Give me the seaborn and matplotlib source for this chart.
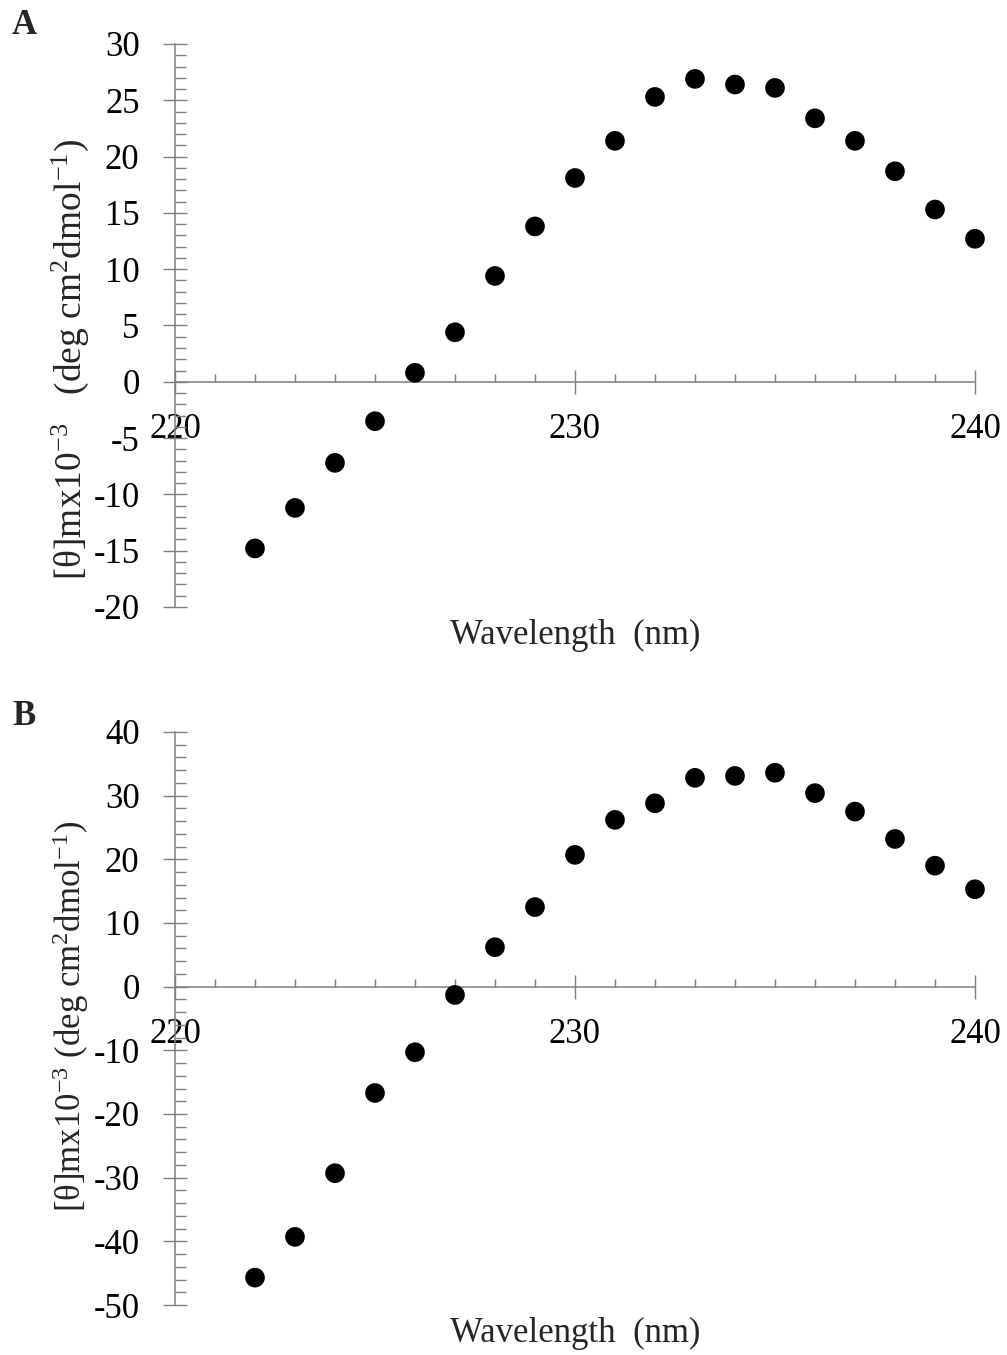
import matplotlib
matplotlib.use('Agg')
import matplotlib.pyplot as plt
import seaborn as sns
import pandas as pd
from matplotlib.ticker import MultipleLocator

# wavelengths (nm), one reading per nm
wavelength = list(range(222, 241))

# mean residue ellipticity x10^-3, panel A
theta_a = [-14.8, -11.2, -7.2, -3.5, 0.8, 4.4, 9.4, 13.8, 18.1, 21.4,
           25.3, 26.9, 26.4, 26.1, 23.4, 21.4, 18.7, 15.3, 12.7]

# panel B
theta_b = [-45.7, -39.3, -29.3, -16.7, -10.3, -1.3, 6.2, 12.5, 20.7, 26.2,
           28.8, 32.8, 33.1, 33.6, 30.4, 27.5, 23.2, 19.0, 15.3]

sns.set_style('white')
plt.rcParams['font.family'] = ['Liberation Serif', 'DejaVu Serif']
plt.rcParams['mathtext.fontset'] = 'custom'
plt.rcParams['mathtext.rm'] = 'Liberation Serif'
plt.rcParams['mathtext.it'] = 'Liberation Serif:italic'
plt.rcParams['axes.unicode_minus'] = False

GRAY = '#7f7f7f'


def draw_panel(ax, theta, ylim, ymajor, yminor, ylabel, ylab_size, ylab_pos):
    df = pd.DataFrame({'wl': wavelength, 'theta': theta})
    sns.scatterplot(data=df, x='wl', y='theta', ax=ax, color='black',
                    s=200, edgecolor='none', clip_on=False, zorder=3)

    ax.set_xlim(220, 240)
    ax.set_ylim(*ylim)
    ax.spines['top'].set_visible(False)
    ax.spines['right'].set_visible(False)
    ax.spines['bottom'].set_position(('data', 0))
    for s in ['left', 'bottom']:
        ax.spines[s].set_color(GRAY)
        ax.spines[s].set_linewidth(1.1)

    ax.xaxis.set_major_locator(MultipleLocator(10))
    ax.xaxis.set_minor_locator(MultipleLocator(1))
    ax.yaxis.set_major_locator(MultipleLocator(ymajor))
    ax.yaxis.set_minor_locator(MultipleLocator(yminor))

    # seaborn's white style switches ticks off, turn them back on
    ax.tick_params(which='both', bottom=True, left=True, top=False, right=False)
    ax.tick_params(which='major', direction='inout', length=17, width=1,
                   color=GRAY, labelsize=25, labelcolor='black')
    ax.tick_params(axis='x', which='major', pad=14)
    ax.tick_params(axis='y', which='major', pad=17)
    ax.tick_params(axis='x', which='minor', direction='in', length=6,
                   width=1, color=GRAY)
    ax.tick_params(axis='y', which='minor', direction='in', length=8,
                   width=1, color=GRAY)

    ax.set_xlabel('Wavelength  (nm)', fontsize=25, va='center')
    ax.xaxis.set_label_coords(0.5, -0.05)
    ax.set_ylabel(ylabel, fontsize=ylab_size, va='center')
    ax.yaxis.set_label_coords(-0.131, ylab_pos)


fig = plt.figure(figsize=(10.07, 13.55), dpi=100)
ax_a = fig.add_axes([175 / 1007, 1 - 607 / 1355, 800 / 1007, 563 / 1355])
ax_b = fig.add_axes([175 / 1007, 1 - 1305 / 1355, 800 / 1007, 573 / 1355])

draw_panel(ax_a, theta_a, (-20, 30), 5, 1,
           r'[θ]mx10$^{-3}$   (deg cm$^{2}$dmol$^{-1}$)', 27, 0.439)
draw_panel(ax_b, theta_b, (-50, 40), 10, 2,
           r'[θ]mx10$^{-3}$ (deg cm$^{2}$dmol$^{-1}$)', 25, 0.503)

fig.text(0.012, 1 - 9 / 1355, 'A', fontsize=25, fontweight='bold', va='top')
fig.text(0.012, 1 - 700 / 1355, 'B', fontsize=25, fontweight='bold', va='top')

fig.savefig('out.png', dpi=100, facecolor='white')
